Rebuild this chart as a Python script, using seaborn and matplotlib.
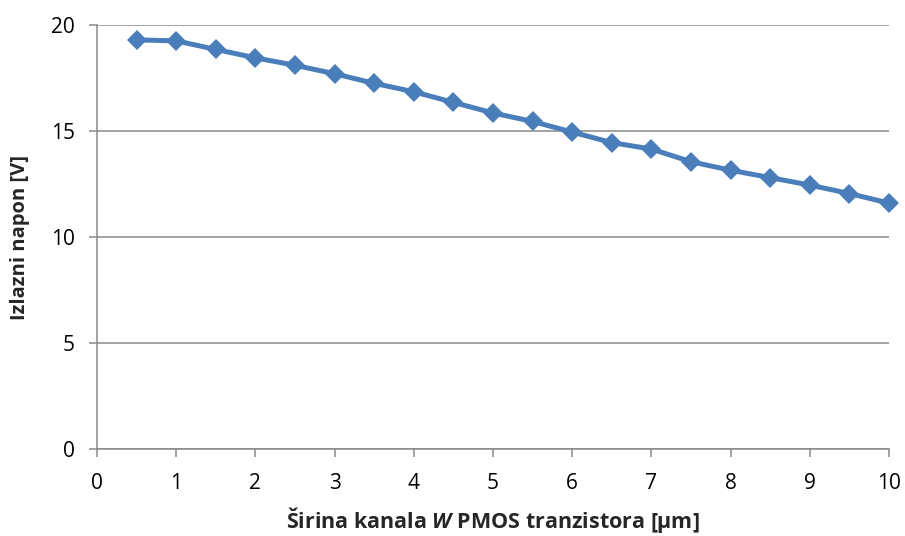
import matplotlib
matplotlib.use("Agg")
import matplotlib.pyplot as plt
import seaborn as sns
import pandas as pd

# Channel width of the PMOS transistor [um] and resulting output voltage [V]
width_um = [0.5, 1.0, 1.5, 2.0, 2.5, 3.0, 3.5, 4.0, 4.5, 5.0,
            5.5, 6.0, 6.5, 7.0, 7.5, 8.0, 8.5, 9.0, 9.5, 10.0]
output_v = [19.3, 19.25, 18.85, 18.45, 18.1, 17.7, 17.25, 16.85, 16.35, 15.85,
            15.45, 14.95, 14.45, 14.15, 13.55, 13.15, 12.8, 12.45, 12.05, 11.6]

x_ticks = list(range(0, 11))
y_ticks = [0, 5, 10, 15, 20]

sns.set_style("white")
plt.rcParams["font.family"] = ["Open Sans", "DejaVu Sans"]
plt.rcParams["mathtext.fontset"] = "custom"
plt.rcParams["mathtext.bfit"] = "Open Sans:italic:bold"

df = pd.DataFrame({"W": width_um, "V": output_v})

fig = plt.figure(figsize=(9.05, 5.36), dpi=100)
ax = fig.add_axes([97 / 905, 1 - 449 / 536, (889 - 97) / 905, (449 - 25) / 536])

grid_c = "#898989"
ax.set_axisbelow(True)
ax.yaxis.grid(True, color=grid_c, linewidth=1.1)
ax.xaxis.grid(False)

sns.lineplot(data=df, x="W", y="V", ax=ax, color="#4A7EBB", linewidth=3.6,
             marker="D", markersize=10, markeredgewidth=0, clip_on=False)

ax.set_xlim(0, 10)
ax.set_ylim(0, 20)
ax.set_xticks(x_ticks)
ax.set_yticks(y_ticks)

for side in ("top", "right"):
    ax.spines[side].set_visible(False)
for side in ("left", "bottom"):
    ax.spines[side].set_color(grid_c)
    ax.spines[side].set_linewidth(1.1)

ax.tick_params(axis="both", direction="out", length=6, width=1.1, color=grid_c,
               labelsize=15, labelcolor="black", left=True, bottom=True)
ax.tick_params(axis="y", pad=10)
ax.tick_params(axis="x", pad=11)

ax.set_xlabel("Širina kanala $\\mathbfit{W}$ PMOS tranzistora [µm]", fontsize=15.5,
              fontweight="bold", labelpad=8)
ax.set_ylabel("Izlazni napon [V]", fontsize=14.5, fontweight="bold", labelpad=15)

fig.savefig("out.png", dpi=100)
